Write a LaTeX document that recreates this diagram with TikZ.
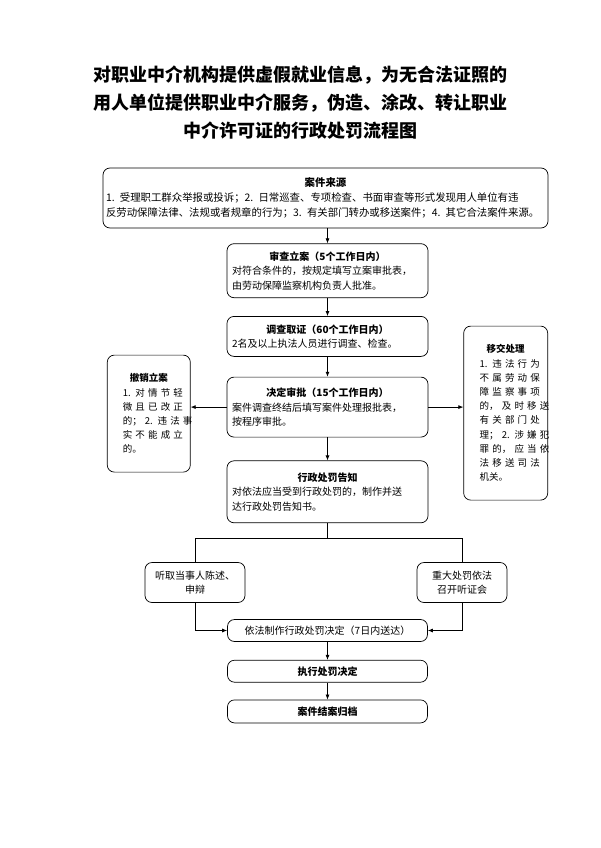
\documentclass[tikz,border=0pt]{standalone}
\usepackage{fontspec}
\setmainfont{Noto Sans CJK SC}
\usepackage{tikz}
\usetikzlibrary{arrows.meta,positioning}

\newcommand{\spreadline}[1]{\makebox[\linewidth][s]{#1}}
\newcommand{\headline}[1]{\makebox[\linewidth]{\bfseries #1}}

\begin{document}
\begin{tikzpicture}[font=\fontsize{10}{14.5}\selectfont,
  box/.style={draw,line width=0.7pt,rounded corners=7pt,inner ysep=2pt},
  textbox/.style={box,align=left,inner xsep=5pt},
  narrow/.style={box,align=left,text width=52pt,font=\fontsize{9.5}{14.2}\selectfont},
  arr/.style={-{Latex[length=5pt,width=4pt]},line width=0.7pt},
  link/.style={line width=0.7pt}
]
  \useasboundingbox (0,0) rectangle (600pt,-848pt);
  \node[font=\fontsize{18}{28}\selectfont\bfseries,align=center] (title) at (300pt,-103pt)
    {对职业中介机构提供虚假就业信息，为无合法证照的\\用人单位提供职业中介服务，伪造、涂改、转让职业\\中介许可证的行政处罚流程图};

  \node[textbox,text width=439pt,inner xsep=3pt,minimum height=60pt,font=\fontsize{10.4}{15}\selectfont] (src) at (325.5pt,-198pt)
    {\headline{案件来源}\\\mbox{1. 受理职工群众举报或投诉；2. 日常巡查、专项检查、书面审查等形式发现用人单位有违}\\\mbox{反劳动保障法律、法规或者规章的行为；3. 有关部门转办或移送案件；4. 其它合法案件来源。}};
  \node[textbox,text width=191pt,minimum height=54pt,below=15pt of src,xshift=2pt] (chk)
    {\headline{审查立案（5个工作日内）}\\对符合条件的，按规定填写立案审批表，\\由劳动保障监察机构负责人批准。};
  \node[textbox,text width=191pt,minimum height=40pt,below=18pt of chk] (inv)
    {\headline{调查取证（60个工作日内）}\\2名及以上执法人员进行调查、检查。};
  \node[textbox,text width=191pt,minimum height=60pt,below=20pt of inv] (dec)
    {\headline{决定审批（15个工作日内）}\\案件调查终结后填写案件处理报批表，\\按程序审批。};
  \node[textbox,text width=191pt,minimum height=62pt,below=23pt of dec] (ntc)
    {\headline{行政处罚告知}\\对依法应当受到行政处罚的，制作并送\\达行政处罚告知书。};

  \node[narrow,inner xsep=15.5pt,minimum height=117pt,left=36pt of dec,yshift=-6.5pt] (cancel)
    {\headline{撤销立案}\\\spreadline{1. 对 情 节 轻}\\\spreadline{微 且 已 改 正}\\\spreadline{的； 2. 违 法 事}\\\spreadline{实 不 能 成 立}\\的。};
  \node[narrow,inner xsep=16pt,minimum height=174pt,right=35pt of dec,yshift=-6pt] (tran)
    {\headline{移交处理}\\\spreadline{1. 违 法 行 为}\\\spreadline{不 属 劳 动 保}\\\spreadline{障 监 察 事 项}\\\spreadline{的， 及 时 移 送}\\\spreadline{有 关 部 门 处}\\\spreadline{理； 2. 涉 嫌 犯}\\\spreadline{罪 的， 应 当 依}\\\spreadline{法 移 送 司 法}\\机关。};

  \coordinate[below=15pt of ntc] (split);
  \node[box,align=center,minimum width=100pt,minimum height=40pt,below=39pt of ntc,xshift=-132.5pt] (hear)
    {听取当事人陈述、\\申辩};
  \node[box,align=center,minimum width=90pt,minimum height=40pt,below=39pt of ntc,xshift=134.5pt] (big)
    {重大处罚依法\\召开听证会};
  \node[box,minimum width=200pt,minimum height=22pt,below=96pt of ntc] (mk) {依法制作行政处罚决定（7日内送达）};
  \node[box,minimum width=200pt,minimum height=22pt,below=18pt of mk] (exe) {\bfseries 执行处罚决定};
  \node[box,minimum width=200pt,minimum height=23pt,below=17pt of exe] (arc) {\bfseries 案件结案归档};

  \draw[arr] (src.south -| chk.north) -- (chk.north);
  \draw[arr] (chk) -- (inv);
  \draw[arr] (inv) -- (dec);
  \draw[arr] (dec) -- (ntc);
  \draw[arr] (dec.west) -- (dec.west -| cancel.east);
  \draw[arr] (dec.east) -- (dec.east -| tran.west);
  \draw[link] (ntc.south) -- (split);
  \draw[link] (hear.north) |- (split) -| (big.north);
  \draw[arr] (hear.south) |- (mk.west);
  \draw[arr] (big.south) |- (mk.east);
  \draw[arr] (mk) -- (exe);
  \draw[arr] (exe) -- (arc);
\end{tikzpicture}
\end{document}
